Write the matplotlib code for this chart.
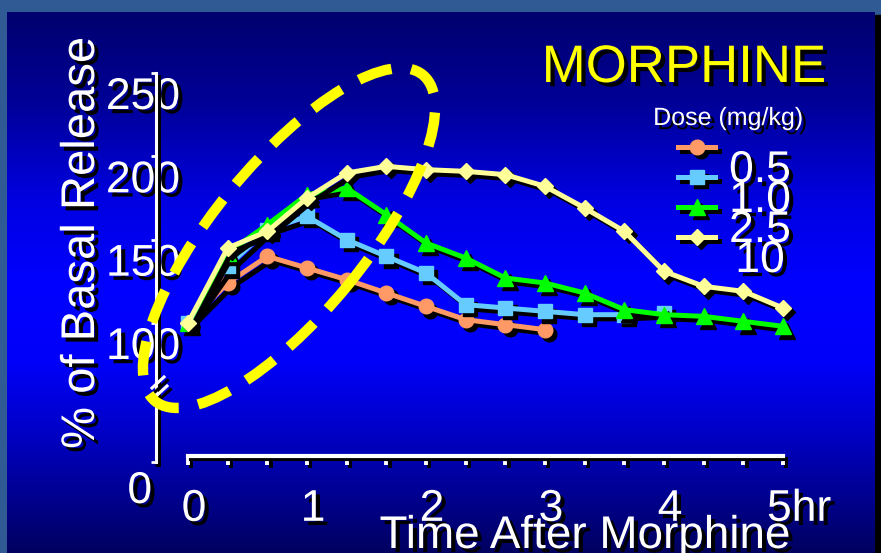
import numpy as np
import matplotlib
matplotlib.use("Agg")
import matplotlib.pyplot as plt
import matplotlib.patheffects as pe
import matplotlib.transforms as mtransforms
from matplotlib.patches import Ellipse, Rectangle
from matplotlib.lines import Line2D
from matplotlib.ticker import MultipleLocator

plt.rcParams['font.family'] = ['Liberation Sans', 'DejaVu Sans']

# ---- data ----
hours = [0, 0.333, 0.667, 1.0, 1.333, 1.667, 2.0, 2.333, 2.667, 3.0,
         3.333, 3.667, 4.0, 4.333, 4.667, 5.0]
dose_05 = [100, 124, 140, 133, 126, 118, 110, 102, 99, 96]
dose_10 = [100, 134, 156, 164, 150, 140, 130, 111, 109, 107, 105, 105, 106]
dose_25 = [100, 142, 159, 177, 181, 165, 148, 139, 127, 124, 118, 108, 105, 104, 101, 98]
dose_100 = [100, 145, 155, 175, 190, 194, 192, 191, 189, 182, 169, 155, 131, 122, 119, 109]
dose_labels = ['0.5', '1.0', '2.5', '10']
x_ticks = [0, 1, 2, 3, 4, 5]
x_ticklabels = ['0', '1', '2', '3', '4', '5hr']
y_ticks = [100, 150, 200, 250]
y_zero_pos = 16.6   # where the "0" sits below the axis break

series = [
    (dose_05, '#ff9966', 'o', 10.5),
    (dose_10, '#66ccff', 's', 10),
    (dose_25, '#00ff00', '^', 11),
    (dose_100, '#ffff99', 'D', 8.5),
]

W, H = 881, 553
fig = plt.figure(figsize=(W / 100, H / 100), dpi=100, facecolor='#2f5a94')


def px_box(x0, y0, x1, y1):
    return [x0 / W, 1 - y1 / H, (x1 - x0) / W, (y1 - y0) / H]


def px(x, y):
    # pixel (top-left origin) -> inches for dpi_scale_trans
    return x / 100, (H - y) / 100


shadow_off = mtransforms.ScaledTranslation(3 / 72, -3 / 72, fig.dpi_scale_trans)
txt_fx = [pe.SimplePatchShadow(offset=(3, -3), shadow_rgbFace='black', alpha=1), pe.Normal()]
line_fx = [pe.SimpleLineShadow(offset=(2.5, -2.5), shadow_color='black', alpha=1), pe.Normal()]

# panel with vertical gradient + dark edge on the right
fig.add_artist(Rectangle((875 / W, 0), 6 / W, 1 - 15 / H, transform=fig.transFigure,
                         color='black', zorder=0))
bg = fig.add_axes(px_box(7, 12, 875, 553), zorder=0)
yy = np.arange(12, 553)
blue = np.interp(yy, [12, 100, 200, 280, 360, 430, 500, 553],
                 [110, 150, 225, 255, 250, 200, 140, 95]) / 255
img = np.zeros((len(yy), 1, 3))
img[:, 0, 2] = blue
bg.imshow(img, aspect='auto', extent=[0, 1, 0, 1], interpolation='bilinear')
bg.axis('off')

# main axes
ax = fig.add_axes(px_box(156, 73, 783, 462), zorder=2)
ax.patch.set_alpha(0)

for vals, color, marker, ms in series:
    t = hours[:len(vals)]
    ax.plot(t, vals, color='black', lw=3.6, marker=marker, ms=ms, mec='black',
            transform=ax.transData + shadow_off, clip_on=False)
    ax.plot(t, vals, color=color, lw=3.6, marker=marker, ms=ms, mec=color, clip_on=False)

ax.set_xlim(-32 / 119, 5)
ax.set_ylim(y_zero_pos, 250)

for s in ['top', 'right']:
    ax.spines[s].set_visible(False)
ax.spines['left'].set_color('white')
ax.spines['left'].set_linewidth(2.2)
ax.spines['left'].set_bounds(y_zero_pos, 250)
ax.spines['bottom'].set_color('white')
ax.spines['bottom'].set_linewidth(3)
ax.spines['bottom'].set_position(('data', 20.5))
ax.spines['bottom'].set_bounds(0, 5)
for s in ['left', 'bottom']:
    ax.spines[s].set_path_effects(line_fx)

ax.set_xticks(x_ticks)
ax.set_xticklabels(x_ticklabels)
ax.xaxis.set_minor_locator(MultipleLocator(1 / 3))
ax.set_yticks([y_zero_pos] + y_ticks)
ax.set_yticklabels(['0'] + [str(v) for v in y_ticks])
ax.tick_params(axis='x', which='both', direction='out', length=6.5, width=2.8,
               color='white', labelsize=32, labelcolor='white', pad=17.5)
ax.tick_params(axis='y', direction='out', length=3.5, width=2,
               color='white', labelsize=32, labelcolor='white', pad=0)
for tk in ax.xaxis.get_major_ticks() + ax.xaxis.get_minor_ticks() + ax.yaxis.get_major_ticks():
    tk.tick1line.set_path_effects(line_fx)


def shift(label, dx, dy):
    label.set_transform(label.get_transform() +
                        mtransforms.ScaledTranslation(dx / 100, -dy / 100, fig.dpi_scale_trans))
    label.set_path_effects(txt_fx)


for i, lab in enumerate(ax.get_xticklabels()):
    if i == len(x_ticks) - 1:
        lab.set_ha('left')
        shift(lab, -16, 0)
    else:
        shift(lab, 6, 0)
for i, lab in enumerate(ax.get_yticklabels()):
    if i == 0:
        shift(lab, 1, 25)
    else:
        shift(lab, 29, 20)

# axis break marks
for (x0, y0, x1, y1) in [(152, 388, 164, 377), (155, 397, 167, 386)]:
    a, b = px(x0, y0)
    c, d = px(x1, y1)
    fig.add_artist(Line2D([a, c], [b, d], transform=fig.dpi_scale_trans, color='white', lw=2.2,
                          zorder=5, path_effects=line_fx))

ax.set_ylabel('% of Basal Release', fontsize=34, color='white', va='center', path_effects=txt_fx)
ax.yaxis.set_label_coords((82 - 156) / 627, (462 - 243) / 389)
ax.set_xlabel('Time After Morphine', fontsize=33, color='white', va='baseline', path_effects=txt_fx)
ax.xaxis.set_label_coords((585 - 156) / 627, (462 - 548) / 389)

# title
fig.text(684 / W, 1 - 82 / H, 'MORPHINE', fontsize=38, color='#ffff00', ha='center',
         va='baseline', path_effects=txt_fx, zorder=6)

# legend (hand placed like the slide)
fig.text(728 / W, 1 - 125 / H, 'Dose (mg/kg)', fontsize=18, color='white', ha='center',
         va='baseline', path_effects=txt_fx, zorder=6)
for i, ((vals, color, marker, ms), lab) in enumerate(zip(series, dose_labels)):
    yl = 147 + 30 * i
    xs = [678 / 100, 697 / 100, 715 / 100]
    ys = [(H - yl) / 100] * 3
    fig.add_artist(Line2D(xs, ys, transform=fig.dpi_scale_trans + shadow_off, color='black', lw=3.6,
                          marker=marker, markevery=[1], ms=ms, mec='black', zorder=6))
    fig.add_artist(Line2D(xs, ys, transform=fig.dpi_scale_trans, color=color, lw=3.6,
                          marker=marker, markevery=[1], ms=ms, mec=color, zorder=6))
    fig.text(760 / W, 1 - (182 + 30 * i) / H, lab, fontsize=32, color='white', ha='center',
             va='baseline', path_effects=txt_fx, zorder=7)

# dashed highlight ellipse
cx, cy = px(289, 238)
fig.add_artist(Ellipse((cx, cy), 4.22, 1.51, angle=50.6, transform=fig.dpi_scale_trans,
                       fill=False, ec='#ffff00', lw=7.5, ls=(0, (3.3, 1.9)), capstyle='butt', zorder=10))

fig.savefig('out.png', dpi=100, facecolor=fig.get_facecolor())
